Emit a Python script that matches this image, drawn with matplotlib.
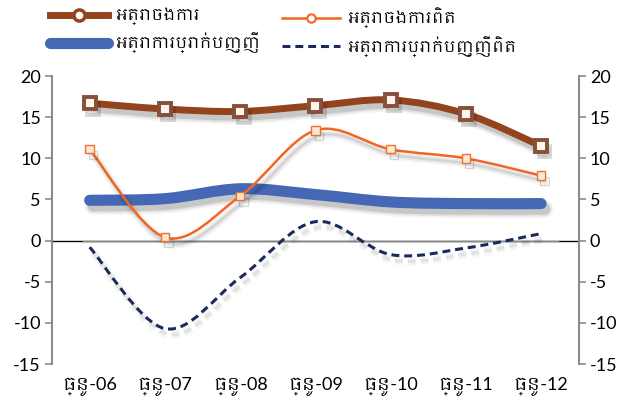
import matplotlib
matplotlib.use("Agg")
import matplotlib.pyplot as plt
from matplotlib.path import Path
from matplotlib.patches import PathPatch
from matplotlib.lines import Line2D
import matplotlib.patheffects as pe
from matplotlib import font_manager as fm
import numpy as np

# ---------------- data ----------------
categories = ["ធ្នូ-06", "ធ្នូ-07", "ធ្នូ-08", "ធ្នូ-09", "ធ្នូ-10", "ធ្នូ-11", "ធ្នូ-12"]
lending_rate = [16.7, 16.0, 15.7, 16.4, 17.1, 15.4, 11.5]
real_lending_rate = [11.1, 0.4, 5.4, 13.4, 11.1, 10.0, 7.9]
deposit_rate = [4.9, 5.1, 6.3, 5.6, 4.7, 4.5, 4.5]
real_deposit_rate = [-0.8, -10.7, -4.5, 2.3, -1.7, -0.9, 0.85]
labels = ["អត្រាចងការ", "អត្រាចងការពិត", "អត្រាការប្រាក់បញ្ញើ", "អត្រាការប្រាក់បញ្ញើពិត"]
y_ticks = [-15, -10, -5, 0, 5, 10, 15, 20]

# ---------------- fonts ----------------
khmer_family = None
for name in ["Khmer", "Battambang", "Hanuman", "Content", "Angkor", "Suwannaphum"]:
    try:
        fm.findfont(fm.FontProperties(family=name), fallback_to_default=False)
        khmer_family = name
        break
    except Exception:
        pass

BASE = "Lato"
mixed = [BASE, khmer_family, "DejaVu Sans"] if khmer_family else [BASE, "DejaVu Sans"]
plt.rcParams["font.family"] = mixed

# ---------------- colours ----------------
BROWN = "#94441C"
ORANGE = "#F26522"
BLUE = "#4468B4"
NAVY = "#1B2A5E"
AXIS_GRAY = "#8C8C8C"


def smooth_path(xs, ys):
    pts = np.column_stack([xs, ys]).astype(float)
    n = len(pts)
    verts = [pts[0]]
    codes = [Path.MOVETO]
    for i in range(n - 1):
        p0 = pts[i - 1] if i > 0 else pts[i]
        p1 = pts[i]
        p2 = pts[i + 1]
        p3 = pts[i + 2] if i + 2 < n else pts[i + 1]
        c1 = p1 + (p2 - p0) / 6.0
        c2 = p2 - (p3 - p1) / 6.0
        verts += [c1, c2, p2]
        codes += [Path.CURVE4] * 3
    return Path(verts, codes)


def shadow(lw, strength=1.0, off=(2.5, -4.0)):
    return [
        pe.Stroke(offset=off, linewidth=lw + 5, foreground="black", alpha=0.04 * strength),
        pe.Stroke(offset=off, linewidth=lw + 2.5, foreground="black", alpha=0.07 * strength),
        pe.Stroke(offset=off, linewidth=lw, foreground="black", alpha=0.12 * strength),
        pe.Normal(),
    ]


fig = plt.figure(figsize=(6.27, 4.09), dpi=100)
ax = fig.add_axes([0.083, 0.110, 0.840, 0.704])
x = np.arange(len(categories))

# zero line
ax.axhline(0, color="black", lw=1.0, zorder=1)
ax.plot([-0.09, 6.22], [0, 0], color="#8A8A8A", lw=1.0, zorder=1.5)

series = [
    (lending_rate, BROWN, 5.0, "solid", 5, 1.0),
    (real_lending_rate, ORANGE, 1.8, "solid", 4, 0.8),
    (deposit_rate, BLUE, 8.0, "solid", 3, 1.0),
    (real_deposit_rate, NAVY, 2.2, "dashed", 2, 0.5),
]
for vals, col, lw, ls, z, st in series:
    patch = PathPatch(smooth_path(x, vals), facecolor="none", edgecolor=col,
                      lw=lw, capstyle="round" if ls == "solid" else "butt",
                      joinstyle="round", zorder=z)
    if ls == "dashed":
        patch.set_linestyle((0, (2.6, 1.6)))
    patch.set_path_effects(shadow(lw, st))
    ax.add_patch(patch)

ax.plot(x, lending_rate, ls="none", marker="s", ms=8.5, mfc="#FFF4EC",
        mec="#86503A", mew=2.8, zorder=6,
        path_effects=[pe.SimpleLineShadow(offset=(2.5, -4), alpha=0.15), pe.Normal()])
ax.plot(x, real_lending_rate, ls="none", marker="s", ms=6, mfc="#FCE6D6",
        mec="#E8742F", mew=1.0, zorder=6,
        path_effects=[pe.SimpleLineShadow(offset=(2.5, -4), alpha=0.15), pe.Normal()])

ax.set_xlim(-0.5, 6.5)
ax.set_ylim(-15, 20)
ax.set_yticks(y_ticks)
ax.set_yticklabels([str(v) for v in y_ticks])
ax.set_xticks(x)
ax.set_xticklabels(categories)

ax2 = ax.twinx()
ax2.set_ylim(-15, 20)
ax2.set_yticks(y_ticks)
ax2.set_yticklabels([str(v) for v in y_ticks])

for a in (ax, ax2):
    for s in a.spines.values():
        s.set_visible(False)
    a.tick_params(axis="y", direction="out", length=5, width=1.2, color=AXIS_GRAY,
                  labelsize=13, labelcolor="black", pad=3)
ax.spines["left"].set_visible(True)
ax.spines["left"].set_color(AXIS_GRAY)
ax.spines["left"].set_linewidth(1.5)
ax2.spines["right"].set_visible(True)
ax2.spines["right"].set_color(AXIS_GRAY)
ax2.spines["right"].set_linewidth(1.5)
ax.tick_params(axis="x", length=0, labelsize=13, pad=9)

# legends
h_brown = Line2D([], [], color=BROWN, lw=5.0, marker="o", ms=8, mfc="white", mec=BROWN, mew=2.5)
h_orange = Line2D([], [], color=ORANGE, lw=1.8, marker="o", ms=6, mfc="white", mec=ORANGE, mew=1.5)
h_blue = Line2D([], [], color=BLUE, lw=8.0, solid_capstyle="round")
h_navy = Line2D([], [], color=NAVY, lw=2.2, ls=(0, (2.6, 1.6)))

leg_kw = dict(frameon=False, fontsize=11.5, handlelength=3.6, handletextpad=0.45,
              labelspacing=0.45, loc="upper left", borderaxespad=0)
fig.legend([h_brown, h_blue], [labels[0], labels[2]], bbox_to_anchor=(0.07, 0.997), **leg_kw)
fig.legend([h_orange, h_navy], [labels[1], labels[3]], bbox_to_anchor=(0.44, 0.997), **leg_kw)

fig.savefig("out.png", dpi=100)
